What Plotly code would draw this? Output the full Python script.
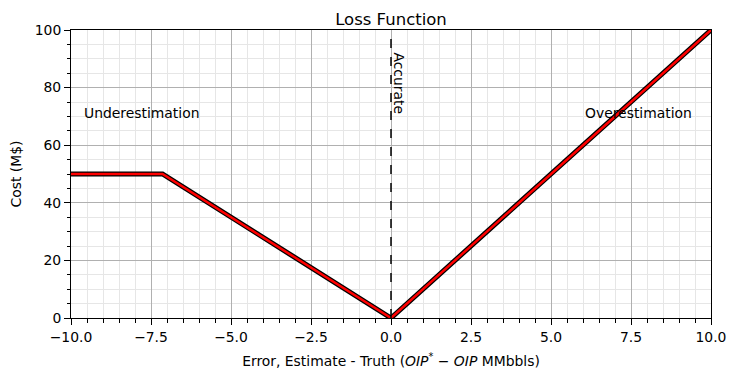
import plotly.graph_objects as go

# Data
error_x = [-10.0, -7.14, 0.0, 10.0]
cost_y = [50.0, 50.0, 0.0, 100.0]

x_tickvals = [-10.0, -7.5, -5.0, -2.5, 0.0, 2.5, 5.0, 7.5, 10.0]
x_ticktext = ["\u221210.0", "\u22127.5", "\u22125.0", "\u22122.5", "0.0", "2.5", "5.0", "7.5", "10.0"]
y_tickvals = [0, 20, 40, 60, 80, 100]
y_ticktext = ["0", "20", "40", "60", "80", "100"]

labels = ["Underestimation", "Overestimation"]
label_x = [-9.65, 6.0]
label_y = [70, 70]

FONT = "DejaVu Sans"
FS = 13.9

fig = go.Figure()
fig.add_trace(go.Scatter(x=error_x, y=cost_y, mode="lines",
                         line=dict(color="black", width=5), hoverinfo="skip", showlegend=False))
fig.add_trace(go.Scatter(x=error_x, y=cost_y, mode="lines",
                         line=dict(color="red", width=2.5), showlegend=False))

fig.add_shape(type="line", x0=0, x1=0, y0=0, y1=100, xref="x", yref="y",
              line=dict(color="black", width=1.5, dash="dash"))

for t, xx, yy in zip(labels, label_x, label_y):
    fig.add_annotation(x=xx, y=yy, text=t, showarrow=False, xanchor="left", yanchor="bottom",
                       yshift=-7, font=dict(family=FONT, size=FS, color="black"))
fig.add_annotation(x=0, y=70, text="Accurate", showarrow=False, textangle=90,
                   xanchor="left", yanchor="bottom", xshift=-2,
                   font=dict(family=FONT, size=FS, color="black"))

axis_common = dict(showline=True, linecolor="black", linewidth=1, mirror=True,
                   ticks="outside", ticklen=6, tickwidth=1, tickcolor="black",
                   showgrid=True, gridcolor="#b0b0b0", gridwidth=1, zeroline=False,
                   automargin=False,
                   tickfont=dict(family=FONT, size=FS, color="black"))

fig.update_xaxes(range=[-10, 10], tickvals=x_tickvals, ticktext=x_ticktext,
                 minor=dict(dtick=0.5, tick0=0, showgrid=True, gridcolor="#e6e6e6", gridwidth=1,
                            ticks="outside", ticklen=3.5, tickcolor="black"),
                 title=dict(text="Error, Estimate - Truth (<i>OIP</i><sup>*</sup> \u2212 <i>OIP</i> MMbbls)",
                            font=dict(family=FONT, size=FS, color="black"), standoff=12),
                 **axis_common)
fig.update_yaxes(range=[0, 100], tickvals=y_tickvals, ticktext=y_ticktext,
                 minor=dict(dtick=5, tick0=0, showgrid=True, gridcolor="#e6e6e6", gridwidth=1,
                            ticks="outside", ticklen=3.5, tickcolor="black"),
                 title=dict(text="Cost (M$)", font=dict(family=FONT, size=FS, color="black"), standoff=12),
                 **axis_common)

# page body has an 8px margin, so the figure is sized/offset to compensate
fig.update_layout(
    width=728, height=375,
    margin=dict(l=63, r=25, t=22, b=65),
    paper_bgcolor="white", plot_bgcolor="white",
    title=dict(text="Loss Function", x=0.5, xref="paper", xanchor="center", y=1, yref="paper",
               yanchor="bottom", pad=dict(b=5), font=dict(family=FONT, size=16.5, color="black")),
    font=dict(family=FONT, color="black"),
)

fig.write_html("out.html")
